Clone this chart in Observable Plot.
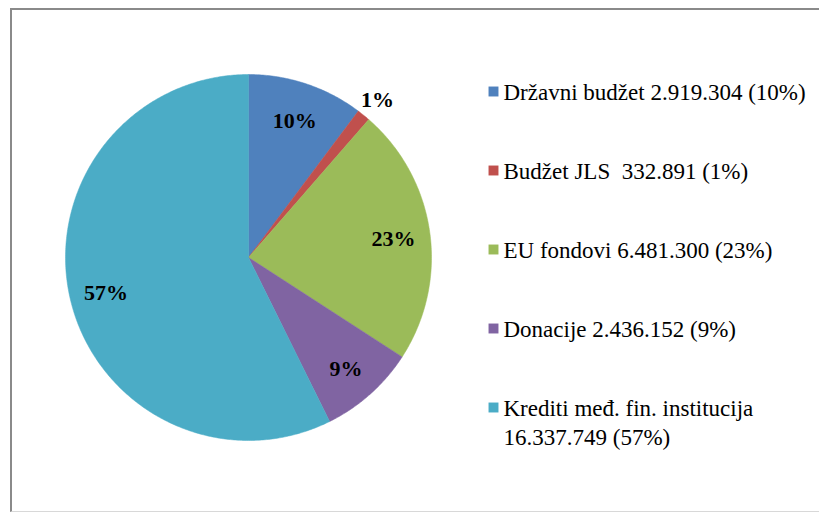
<!DOCTYPE html>
<html>
<head>
<meta charset="utf-8">
<script src="https://cdn.jsdelivr.net/npm/d3@7"></script>
<script src="https://cdn.jsdelivr.net/npm/@observablehq/plot@0.6"></script>
<style>
  html, body { margin: 0; padding: 0; background: #fff; }
  #wrap { position: relative; width: 819px; height: 514px; overflow: hidden; }
  #frame { position: absolute; left: 10px; top: 8px; width: 900px; height: 504px; border-left: 2px solid #8a8a8a; border-top: 2px solid #8a8a8a; border-bottom: 1px solid #d8d8d8; box-sizing: border-box; }
  #chart { position: absolute; left: 0; top: 0; }
  #legend { position: absolute; left: 480px; top: 0; }
</style>
</head>
<body>
<div id="wrap">
  <div id="frame"></div>
  <div id="chart"></div>
  <div id="legend"></div>
</div>
<script>
const categories = ["Državni budžet", "Budžet JLS", "EU fondovi", "Donacije", "Krediti međ. fin. institucija"];
const values = [2919304, 332891, 6481300, 2436152, 16337749];
const percentLabels = ["10%", "1%", "23%", "9%", "57%"];
const legendLabels = [
  "Državni budžet 2.919.304 (10%)",
  "Budžet JLS  332.891 (1%)",
  "EU fondovi 6.481.300 (23%)",
  "Donacije 2.436.152 (9%)",
  "Krediti međ. fin. institucija\n16.337.749 (57%)"
];
const colors = ["#4F81BD", "#C0504D", "#9BBB59", "#8064A2", "#4BACC6"];

const FONT = "'Times New Roman', 'Liberation Serif', Times, serif";
const total = d3.sum(values);
const arcs = d3.pie().sort(null).value(d => d)(values);

const slicePts = [];
arcs.forEach((a, i) => {
  const cat = categories[i];
  slicePts.push({cat, x: 0, y: 0});
  const n = Math.max(2, Math.ceil((a.endAngle - a.startAngle) / 0.01));
  for (let k = 0; k <= n; k++) {
    const t = a.startAngle + (a.endAngle - a.startAngle) * k / n;
    slicePts.push({cat, x: Math.sin(t), y: Math.cos(t)});
  }
  slicePts.push({cat, x: 0, y: 0});
});

const labelPts = arcs.map((a, i) => {
  const mid = (a.startAngle + a.endAngle) / 2;
  const r = values[i] / total < 0.03 ? 1.12 : 0.8;
  return {x: Math.sin(mid) * r, y: Math.cos(mid) * r, text: percentLabels[i]};
});

const plot = Plot.plot({
  width: 819,
  height: 514,
  marginLeft: 65,
  marginRight: 388,
  marginTop: 74,
  marginBottom: 74,
  x: {axis: null, domain: [-1, 1]},
  y: {axis: null, domain: [-1, 1]},
  color: {domain: categories, range: colors},
  style: {background: "transparent", fontFamily: FONT, overflow: "visible"},
  marks: [
    Plot.line(slicePts, {x: "x", y: "y", z: "cat", fill: "cat", stroke: "cat", strokeWidth: 0.5}),
    Plot.text(labelPts, {x: "x", y: "y", dy: 2, text: "text", fontSize: 22, fontWeight: "bold", fill: "#000"})
  ]
});
document.getElementById("chart").appendChild(plot);

const legendRows = categories.map((c, i) => ({cat: c, label: legendLabels[i]}));
const legendPlot = Plot.plot({
  width: 339,
  height: 514,
  marginLeft: 13,
  marginRight: 10,
  marginTop: 90,
  marginBottom: 107,
  x: {axis: null, domain: [0, 1]},
  y: {axis: null, type: "point", domain: categories, padding: 0},
  color: {domain: categories, range: colors},
  style: {background: "transparent", fontFamily: FONT, overflow: "visible"},
  marks: [
    Plot.dot(legendRows, {x: () => 0, y: "cat", symbol: "square", r: 5.6, fill: "cat", stroke: null}),
    Plot.text(legendRows, {x: () => 0, y: "cat", text: "label", dx: 10, textAnchor: "start", lineAnchor: "top", dy: -12, fontSize: 23, lineHeight: 1.26, fill: "#000"})
  ]
});
document.getElementById("legend").appendChild(legendPlot);
</script>
</body>
</html>
